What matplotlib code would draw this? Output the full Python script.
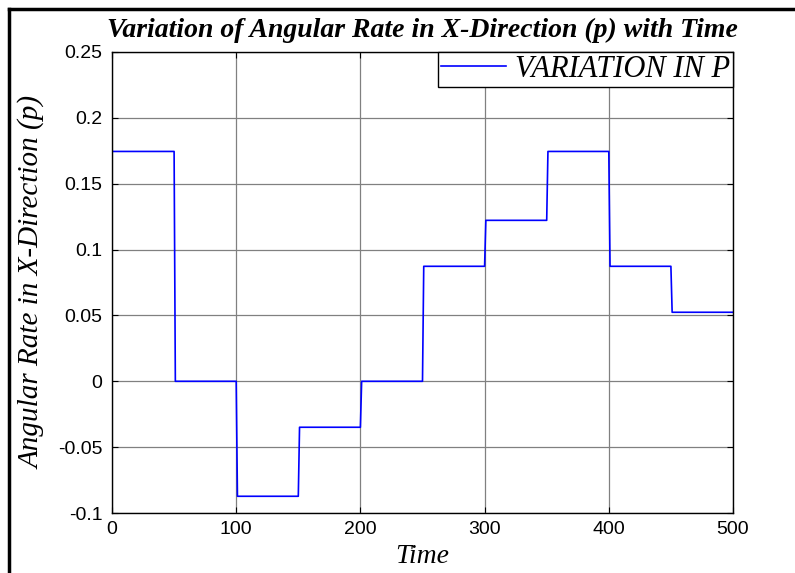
import numpy as np
import matplotlib
matplotlib.use("Agg")
import matplotlib.pyplot as plt
from matplotlib.lines import Line2D

# step changes of p (rad/s) over time
step_times = [0, 50, 100, 150, 200, 250, 300, 350, 400, 450, 500]
p_values = [0.1745, 0.0, -0.0873, -0.0349, 0.0, 0.0873, 0.1222, 0.1745, 0.0873, 0.0524]
x_ticks = [0, 100, 200, 300, 400, 500]
y_ticks = [-0.1, -0.05, 0, 0.05, 0.1, 0.15, 0.2, 0.25]
y_tick_labels = ['-0.1', '-0.05', '0', '0.05', '0.1', '0.15', '0.2', '0.25']

# build the sampled step signal (1 s sample, so each jump takes one step)
t, p = [], []
for i, val in enumerate(p_values):
    start = step_times[i] + (1 if i > 0 else 0)
    t += [start, step_times[i + 1]]
    p += [val, val]

serif = ['Liberation Serif', 'DejaVu Serif']
sans = ['Liberation Sans', 'DejaVu Sans']

fig = plt.figure(figsize=(7.95, 5.73), dpi=100)
ax = fig.add_axes([112 / 795, 1 - 513 / 573, 621 / 795, 461 / 573])

ax.plot(t, p, color='#0000ff', lw=1.2, label='VARIATION IN P')

ax.set_xlim(0, 500)
ax.set_ylim(-0.1, 0.25)
ax.set_xticks(x_ticks)
ax.set_yticks(y_ticks)
ax.set_yticklabels(y_tick_labels)
for lab in ax.get_xticklabels() + ax.get_yticklabels():
    lab.set_family(sans)
    lab.set_fontsize(14)
ax.tick_params(direction='in', length=4, top=True, right=True)
ax.tick_params(axis='x', pad=6)
ax.tick_params(axis='y', pad=7)
ax.grid(True, color='#808080', lw=0.9)
for s in ax.spines.values():
    s.set_color('black')
    s.set_linewidth(1.0)

ax.set_title('Variation of Angular Rate in X-Direction (p) with Time',
             family=serif, style='italic', weight='bold', fontsize=20, pad=11)
ax.set_xlabel('Time', family=serif, style='italic', fontsize=20, labelpad=4)
ax.set_ylabel('Angular Rate in X-Direction (p)', family=serif, style='italic',
              fontsize=21, labelpad=9)

leg = ax.legend(loc='upper right', bbox_to_anchor=(1, 1), borderaxespad=0,
                prop={'family': serif, 'style': 'italic', 'size': 22},
                fancybox=False, framealpha=1, edgecolor='black',
                handlelength=2.1, handletextpad=0.3, borderpad=0.1)
leg.get_frame().set_linewidth(1.0)

# outer frame (left and top edges)
fig.add_artist(Line2D([9 / 795, 9 / 795], [0, 1 - 9 / 573], color='black', lw=2.5))
fig.add_artist(Line2D([9 / 795, 1], [1 - 9 / 573, 1 - 9 / 573], color='black', lw=2.5))

fig.savefig('out.png', dpi=100, facecolor='white')
